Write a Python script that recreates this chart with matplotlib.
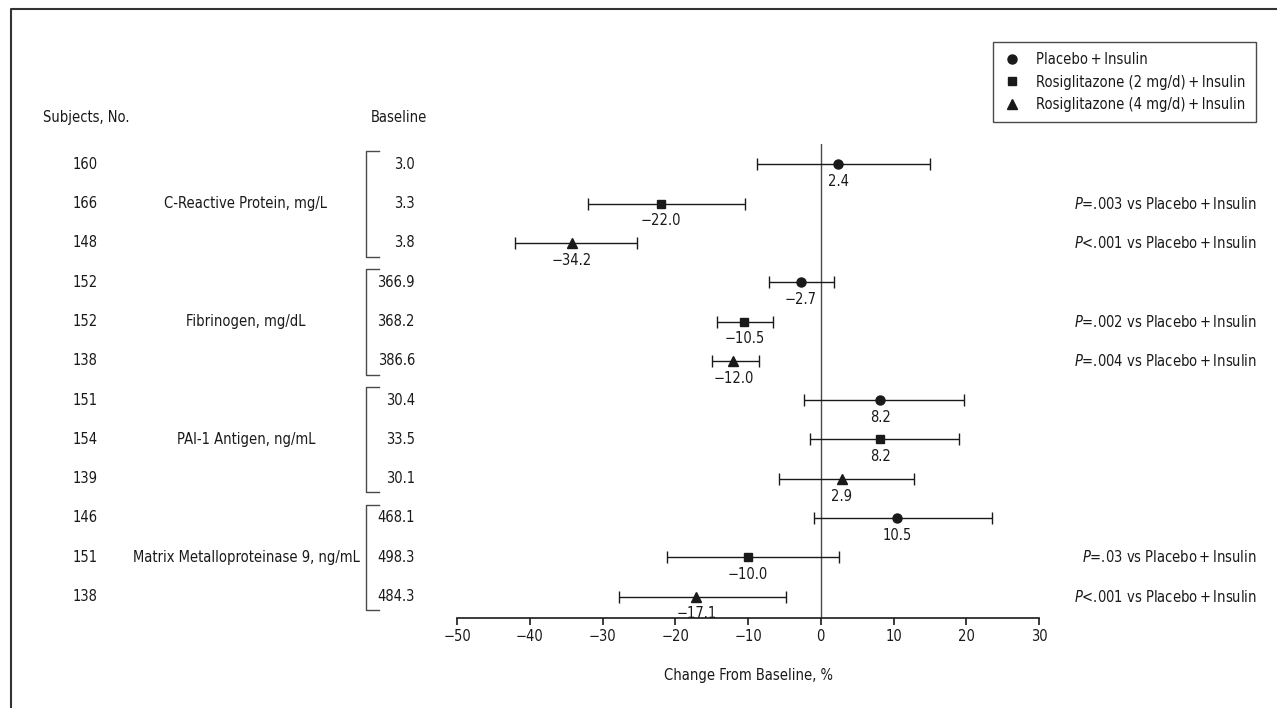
import matplotlib.pyplot as plt
from matplotlib.lines import Line2D
from matplotlib.transforms import blended_transform_factory

plt.rcParams['font.family'] = ['DejaVu Sans']
plt.rcParams['font.stretch'] = 'condensed'
plt.rcParams['mathtext.fontset'] = 'custom'
plt.rcParams['mathtext.it'] = 'DejaVu Sans:italic'
plt.rcParams['mathtext.rm'] = 'DejaVu Sans'

TXT = '#1a1a1a'
GRAY = '#4a4a4a'
FS = 10.5

# values
categories = ['C-Reactive Protein, mg/L', 'Fibrinogen, mg/dL',
              'PAI-1 Antigen, ng/mL', 'Matrix Metalloproteinase 9, ng/mL']
groups = ['Placebo\u2009+\u2009Insulin',
          'Rosiglitazone (2 mg/d)\u2009+\u2009Insulin',
          'Rosiglitazone (4 mg/d)\u2009+\u2009Insulin']
markers = ['o', 's', '^']
marker_sizes = [6.5, 5.5, 7]

subjects = [160, 166, 148, 152, 152, 138, 151, 154, 139, 146, 151, 138]
baseline = ['3.0', '3.3', '3.8', '366.9', '368.2', '386.6',
            '30.4', '33.5', '30.1', '468.1', '498.3', '484.3']
change = [2.4, -22.0, -34.2, -2.7, -10.5, -12.0, 8.2, 8.2, 2.9, 10.5, -10.0, -17.1]
ci_low = [-8.8, -32.0, -42.0, -7.1, -14.3, -15.0, -2.3, -1.5, -5.8, -0.9, -21.1, -27.7]
ci_high = [15.0, -10.4, -25.3, 1.8, -6.5, -8.5, 19.7, 19.0, 12.8, 23.5, 2.5, -4.8]
p_text = [None, '=.003', '<.001', None, '=.002', '=.004',
          None, None, None, None, '=.03', '<.001']

W, H = 1277, 708
fig = plt.figure(figsize=(W / 100, H / 100), dpi=100)
ax = fig.add_axes([457 / W, 1 - 618 / H, 582 / W, 474 / H])
ax.set_xlim(-50, 30)
ax.set_ylim(11.545, -0.517)

for i in range(len(change)):
    g = i % 3
    lo = change[i] - ci_low[i]
    hi = ci_high[i] - change[i]
    ax.errorbar(change[i], i, xerr=[[lo], [hi]], fmt=markers[g], color=TXT,
                ms=marker_sizes[g], ecolor=TXT, elinewidth=1, capsize=4.5,
                capthick=1, zorder=3)
    lab = f'{change[i]:.1f}'.replace('-', '\u2212')
    ax.annotate(lab, (change[i], i), xytext=(0, -12.5), textcoords='offset points',
                ha='center', va='center', fontsize=FS, color=TXT)

ax.axvline(0, color=GRAY, lw=1, zorder=1)

for s in ['top', 'right', 'left']:
    ax.spines[s].set_visible(False)
ax.spines['bottom'].set_color(TXT)
ax.spines['bottom'].set_linewidth(1.2)
ax.set_yticks([])
ax.set_xticks(range(-50, 31, 10))
ax.tick_params(axis='x', direction='out', length=5, width=1.2, colors=TXT,
               labelsize=FS, pad=3)
ax.set_xlabel('Change From Baseline, %', fontsize=FS, color=TXT, labelpad=17)

# left-hand table
tr = blended_transform_factory(fig.transFigure, ax.transData)
ax.text(86 / W, -1.18, 'Subjects, No.', transform=tr, ha='center', va='center',
        fontsize=FS, color=TXT)
ax.text(399 / W, -1.18, 'Baseline', transform=tr, ha='center', va='center',
        fontsize=FS, color=TXT)
for i in range(len(subjects)):
    ax.text(85 / W, i, str(subjects[i]), transform=tr, ha='center', va='center',
            fontsize=FS, color=TXT)
    ax.text(415 / W, i, baseline[i], transform=tr, ha='right', va='center',
            fontsize=FS, color=TXT)
    if p_text[i]:
        ax.text(1257 / W, i, '$P$' + p_text[i] + ' vs ' + groups[0], transform=tr,
                ha='right', va='center', fontsize=FS, color=TXT)

for k, name in enumerate(categories):
    mid = 3 * k + 1
    ax.text(246 / W, mid, name, transform=tr, ha='center', va='center',
            fontsize=FS, color=TXT)
    top, bot = 3 * k - 0.33, 3 * k + 2 + 0.35
    ax.add_line(Line2D([379 / W, 366 / W, 366 / W, 379 / W], [top, top, bot, bot],
                       transform=tr, color=GRAY, lw=1, clip_on=False))

# legend
handles = [Line2D([], [], marker=markers[g], ms=marker_sizes[g], color=TXT, ls='')
           for g in range(3)]
fig.legend(handles, groups, loc='upper right', bbox_to_anchor=(1256 / W, 1 - 42 / H),
           borderaxespad=0, fancybox=False, edgecolor=GRAY, framealpha=1,
           fontsize=FS, handlelength=1.3, handletextpad=1.0, labelspacing=0.5,
           borderpad=0.7, labelcolor=TXT).get_frame().set_linewidth(1)

# figure frame (only top and left edges visible in the crop)
fig.add_artist(Line2D([11 / W, 11 / W, 1], [0, 1 - 9 / H, 1 - 9 / H],
                      transform=fig.transFigure, color='#333333', lw=1.5))

fig.savefig('out.png', dpi=100)
